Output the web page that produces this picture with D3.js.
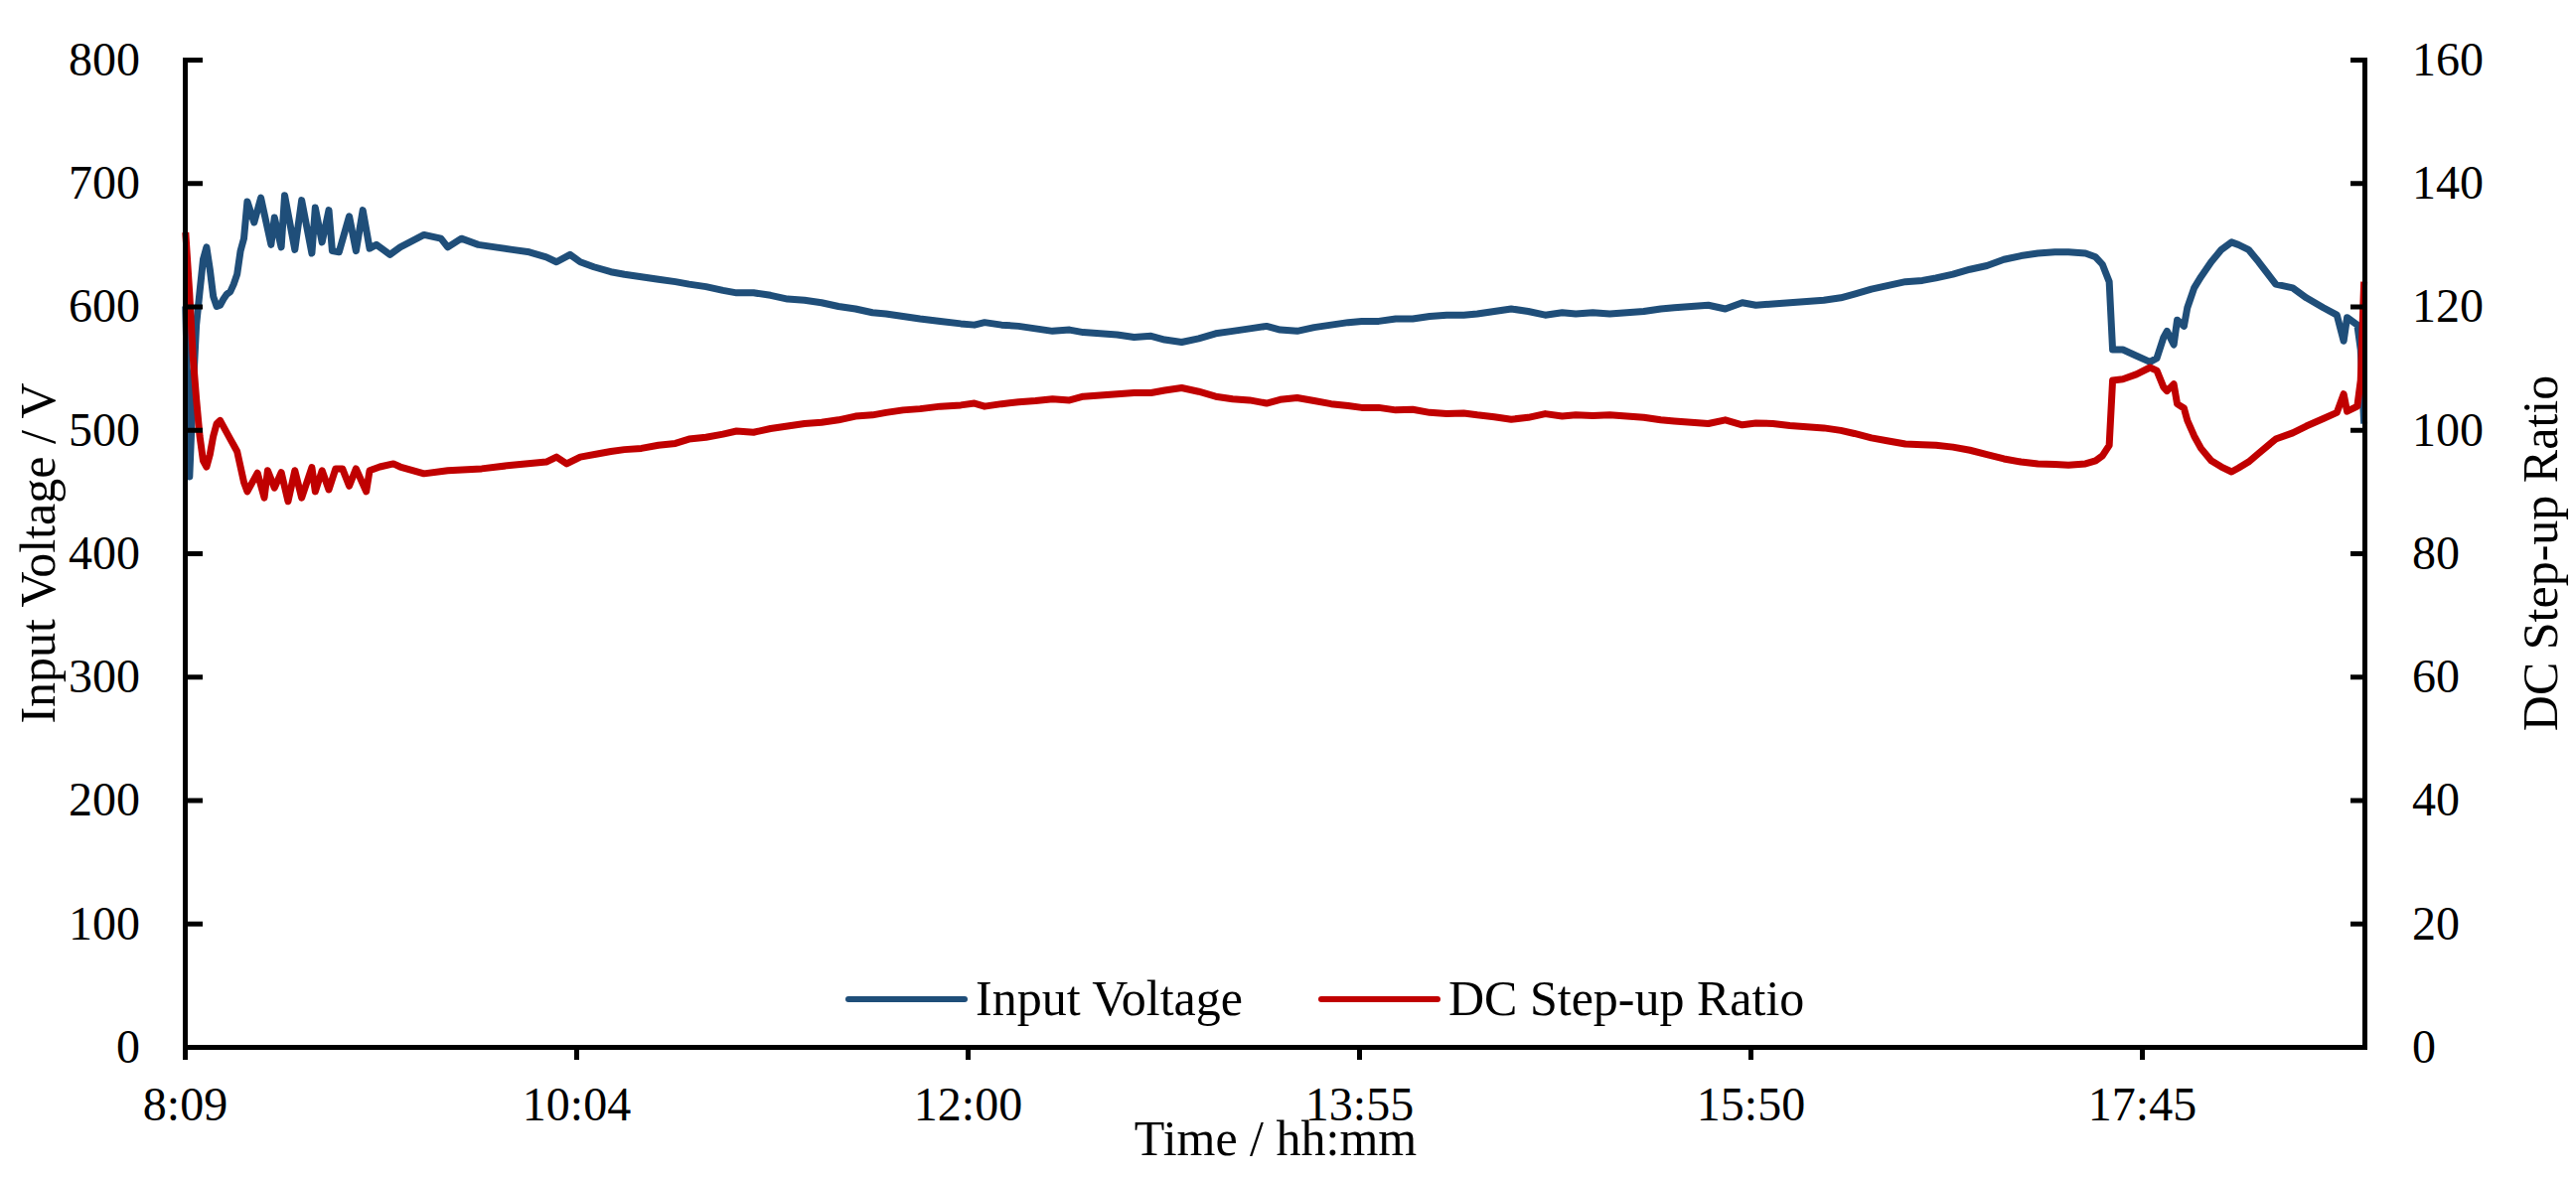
<!DOCTYPE html>
<html>
<head>
<meta charset="utf-8">
<script src="https://cdn.jsdelivr.net/npm/d3@7"></script>
<style>
  body { margin: 0; background: #fff; }
  svg  { display: block; font-family: 'Liberation Serif', 'Times New Roman', serif; }
</style>
</head>
<body>
<svg id="chart"></svg>
<script>
// input voltage (V)
const voltTimes = [
  '8:09:50','8:11','8:12','8:13','8:14','8:15','8:16','8:17','8:18','8:19',
  '8:20','8:21','8:22','8:23','8:24','8:25','8:26','8:27','8:28','8:30',
  '8:32','8:35','8:36','8:38','8:39','8:42','8:44','8:47','8:48','8:50',
  '8:52','8:53','8:55','8:58','9:00','9:02','9:04','9:06','9:10','9:13',
  '9:20','9:25','9:27','9:31','9:36','9:41','9:46','9:51','9:56','9:59',
  '10:03','10:06','10:10','10:15','10:19','10:24','10:29','10:34','10:38','10:43',
  '10:48','10:52','10:57','11:02','11:07','11:12','11:17','11:22','11:27','11:32',
  '11:36','11:41','11:46','11:52','11:58','12:02','12:05','12:10','12:15','12:20',
  '12:25','12:30','12:34','12:39','12:44','12:49','12:54','12:58','13:03','13:08',
  '13:13','13:18','13:23','13:28','13:32','13:37','13:42','13:47','13:52','13:56',
  '14:01','14:06','14:11','14:16','14:21','14:26','14:30','14:35','14:40','14:45',
  '14:50','14:55','14:59','15:04','15:09','15:14','15:19','15:24','15:28','15:33',
  '15:38','15:43','15:48','15:52','15:57','16:02','16:07','16:12','16:17','16:21',
  '16:26','16:31','16:36','16:41','16:45','16:50','16:55','17:00','17:05','17:10',
  '17:15','17:20','17:24','17:29','17:32','17:34','17:36','17:37','17:40','17:44',
  '17:48','17:50','17:52','17:53','17:55','17:56','17:58','17:59','18:01','18:03',
  '18:06','18:09','18:12','18:14','18:17','18:20','18:25','18:30','18:34','18:39',
  '18:43','18:45','18:46','18:49','18:50','18:51'
]
const voltValues = [
  600,462,530,585,612,638,648,630,608,600,
  601,606,610,612,618,626,645,655,685,668,
  688,650,672,648,690,646,686,643,680,652,
  678,645,644,673,645,678,647,650,642,648,
  658,655,648,655,650,648,646,644,640,636,
  642,636,632,628,626,624,622,620,618,616,
  613,611,611,609,606,605,603,600,598,595,
  594,592,590,588,586,585,587,585,584,582,
  580,581,579,578,577,575,576,573,571,574,
  578,580,582,584,581,580,583,585,587,588,
  588,590,590,592,593,593,594,596,598,596,
  593,595,594,595,594,595,596,598,599,600,
  601,598,603,601,602,603,604,605,607,610,
  614,617,620,621,623,626,630,633,638,641,
  643,644,644,643,640,634,620,565,565,560,
  555,558,575,580,569,589,584,599,615,624,
  636,646,652,650,646,636,618,615,607,599,
  593,572,591,585,565,505
]

// DC step-up ratio
const ratioTimes = [
  '8:09:50','8:11','8:12','8:13','8:14','8:15','8:16','8:17','8:18','8:19',
  '8:20','8:21','8:22','8:23','8:24','8:25','8:26','8:27','8:28','8:29',
  '8:31','8:33','8:34','8:36','8:38','8:40','8:42','8:44','8:47','8:48',
  '8:50','8:52','8:54','8:56','8:58','9:00','9:03','9:04','9:07','9:11',
  '9:13','9:20','9:27','9:37','9:46','9:56','9:59','10:02','10:06','10:11',
  '10:15','10:19','10:24','10:29','10:34','10:38','10:43','10:48','10:52','10:57',
  '11:02','11:07','11:12','11:17','11:22','11:27','11:32','11:36','11:41','11:46',
  '11:52','11:58','12:02','12:05','12:10','12:15','12:20','12:25','12:30','12:34',
  '12:39','12:44','12:49','12:54','12:58','13:03','13:08','13:13','13:18','13:23',
  '13:28','13:32','13:37','13:42','13:47','13:52','13:56','14:01','14:06','14:11',
  '14:16','14:21','14:26','14:30','14:35','14:40','14:45','14:50','14:55','14:59',
  '15:04','15:09','15:14','15:19','15:24','15:28','15:33','15:38','15:43','15:48',
  '15:52','15:57','16:02','16:07','16:12','16:17','16:21','16:26','16:31','16:36',
  '16:41','16:45','16:50','16:55','17:00','17:05','17:10','17:15','17:20','17:24',
  '17:29','17:32','17:34','17:36','17:37','17:40','17:44','17:48','17:50','17:52',
  '17:53','17:55','17:56','17:58','17:59','18:01','18:03','18:06','18:09','18:12',
  '18:14','18:17','18:20','18:25','18:30','18:34','18:39','18:43','18:45','18:46',
  '18:49','18:50','18:51'
]
const ratioValues = [
  132,122,112,105,99,95,94,96,99,101,
  101.5,100.5,99.5,98.5,97.5,96.5,94,91.5,90,91,
  93,89,93.4,90.6,93.1,88.4,93.4,89,93.9,90,
  93.4,90.3,93.7,93.7,90.9,93.7,90,93.4,94,94.5,
  94,92.9,93.4,93.7,94.3,94.8,95.6,94.5,95.6,96.1,
  96.5,96.8,97,97.5,97.8,98.5,98.8,99.3,99.8,99.6,
  100.2,100.6,101,101.2,101.6,102.2,102.4,102.8,103.2,103.4,
  103.8,104,104.3,103.8,104.2,104.5,104.7,105,104.8,105.4,
  105.6,105.8,106,106,106.4,106.8,106.2,105.4,105,104.8,
  104.3,104.9,105.2,104.7,104.2,103.9,103.6,103.6,103.2,103.3,
  102.8,102.6,102.7,102.4,102.1,101.7,102,102.6,102.2,102.4,
  102.3,102.4,102.2,102,101.6,101.4,101.2,101,101.6,100.8,
  101.1,101,100.7,100.5,100.3,99.9,99.4,98.7,98.2,97.7,
  97.6,97.5,97.2,96.7,96,95.3,94.8,94.5,94.4,94.3,
  94.5,95,95.8,97.5,108,108.2,109,110.1,109.6,106.9,
  106.3,107.4,104.2,103.5,101.5,99,97,95,94,93.2,
  93.8,94.8,96.2,98.5,99.5,100.6,101.8,102.8,105.8,103,
  103.8,108,124
]

// axis setup (excel style: min 0.34 day, major unit 0.08 day)
const xDomain     = ['8:09:36', '18:51:06']
const xTicks      = ['8:09:36', '10:04:48', '12:00:00', '13:55:12', '15:50:24', '17:45:36']
const xTickLabels = ['8:09', '10:04', '12:00', '13:55', '15:50', '17:45']
const voltTicks   = [0, 100, 200, 300, 400, 500, 600, 700, 800]
const ratioTicks  = [0, 20, 40, 60, 80, 100, 120, 140, 160]
const seriesNames = ['Input Voltage', 'DC Step-up Ratio']

const
  width  = 2593,
  height = 1185,
  plot   = { left: 186, right: 2380, top: 60, bottom: 1054 },
  colors = ['#1F4E79', '#C00000'],
  font   = "'Liberation Serif', 'Times New Roman', serif"

const parseTime = s => d3.timeParse('%H:%M:%S')(s) || d3.timeParse('%H:%M')(s)

const
  svg    = d3.select('#chart').attr('width', width).attr('height', height),
  xScale = d3.scaleTime().domain(xDomain.map(parseTime)).range([plot.left, plot.right]),
  yVolt  = d3.scaleLinear().domain([0, 800]).range([plot.bottom, plot.top]),
  yRatio = d3.scaleLinear().domain([0, 160]).range([plot.bottom, plot.top])

function styleAxis(g, size)
{
  g.attr('font-family', font)
  g.select('.domain').attr('stroke', '#000').attr('stroke-width', 5).attr('stroke-linecap', 'square')
  g.selectAll('.tick line').attr('stroke', '#000').attr('stroke-width', 5)
  g.selectAll('.tick text').attr('fill', '#000').attr('font-size', size)
}

// lines
const series = [
  { times: voltTimes,  values: voltValues,  y: yVolt  },
  { times: ratioTimes, values: ratioValues, y: yRatio }
]

series.forEach((s, i) =>
{
  const line = d3.line()
    .x(d => xScale(d[0]))
    .y(d => s.y(d[1]))

  svg.append('path')
    .datum(d3.zip(s.times.map(parseTime), s.values))
    .attr('fill', 'none')
    .attr('stroke', colors[i])
    .attr('stroke-width', 7)
    .attr('stroke-linejoin', 'round')
    .attr('d', line)
})

// axes
svg.append('g')
  .attr('transform', `translate(0,${plot.bottom})`)
  .call(d3.axisBottom(xScale)
    .tickValues(xTicks.map(parseTime))
    .tickFormat((d, i) => xTickLabels[i])
    .tickSizeInner(13).tickSizeOuter(0).tickPadding(27))
  .call(g => styleAxis(g, 48))

svg.append('g')
  .attr('transform', `translate(${plot.left},0)`)
  .call(d3.axisLeft(yVolt)
    .tickValues(voltTicks)
    .tickSizeInner(-18).tickSizeOuter(0).tickPadding(45))
  .call(g => styleAxis(g, 48))

svg.append('g')
  .attr('transform', `translate(${plot.right},0)`)
  .call(d3.axisRight(yRatio)
    .tickValues(ratioTicks)
    .tickSizeInner(-14).tickSizeOuter(0).tickPadding(48))
  .call(g => styleAxis(g, 48))

// axis titles
const title = (x, y, rotate, text) =>
  svg.append('text')
    .attr('transform', `translate(${x},${y}) rotate(${rotate})`)
    .attr('text-anchor', 'middle')
    .attr('font-size', 50)
    .attr('fill', '#000')
    .text(text)

title(55, 557, -90, 'Input Voltage / V')
title(2574, 557, -90, 'DC Step-up Ratio')
title(1284, 1163, 0, 'Time / hh:mm')

// legend
const legendX = [854, 1330]

seriesNames.forEach((name, i) =>
{
  const g = svg.append('g').attr('transform', `translate(${legendX[i]},1006)`)

  g.append('line')
    .attr('x1', 0).attr('x2', 117)
    .attr('stroke', colors[i])
    .attr('stroke-width', 6)
    .attr('stroke-linecap', 'round')

  g.append('text')
    .attr('x', 128).attr('y', 16)
    .attr('font-size', 50)
    .attr('fill', '#000')
    .text(name)
})
</script>
</body>
</html>
